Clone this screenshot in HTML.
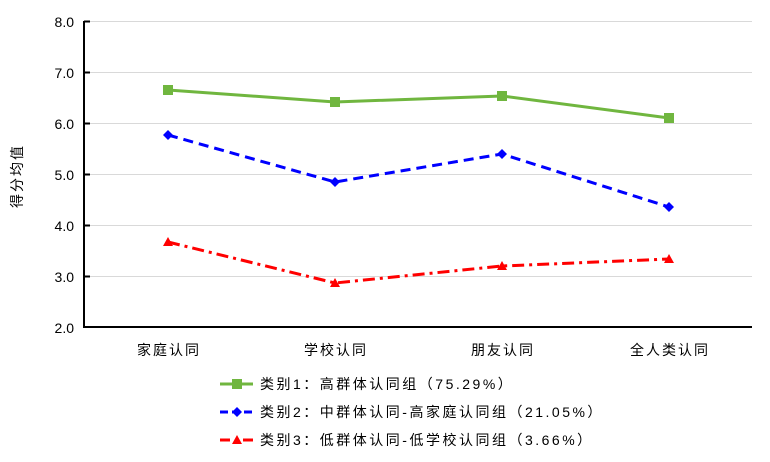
<!DOCTYPE html>
<html><head><meta charset="utf-8"><style>
html,body{margin:0;padding:0;background:#fff;}
svg{display:block;font-family:"Liberation Sans","Noto Sans CJK SC",sans-serif;}
</style></head><body>
<svg width="770" height="462" viewBox="0 0 770 462" xmlns="http://www.w3.org/2000/svg">
<rect width="770" height="462" fill="#fff"/>
<g stroke="#d9d9d9" stroke-width="1">
<line x1="85" y1="21.5" x2="752" y2="21.5"/>
<line x1="85" y1="72.5" x2="752" y2="72.5"/>
<line x1="85" y1="123.5" x2="752" y2="123.5"/>
<line x1="85" y1="174.5" x2="752" y2="174.5"/>
<line x1="85" y1="225.5" x2="752" y2="225.5"/>
<line x1="85" y1="276.5" x2="752" y2="276.5"/>
</g>
<g stroke="#000" stroke-width="2">
<line x1="84" y1="21" x2="84" y2="327"/>
<line x1="83" y1="327" x2="752" y2="327"/>
<line x1="84" y1="21.5" x2="90" y2="21.5"/>
<line x1="84" y1="72.5" x2="90" y2="72.5"/>
<line x1="84" y1="123.5" x2="90" y2="123.5"/>
<line x1="84" y1="174.5" x2="90" y2="174.5"/>
<line x1="84" y1="225.5" x2="90" y2="225.5"/>
<line x1="84" y1="276.5" x2="90" y2="276.5"/>
</g>
<g font-size="14" fill="#000" text-anchor="end">
<text x="74" y="27">8.0</text>
<text x="74" y="78">7.0</text>
<text x="74" y="129">6.0</text>
<text x="74" y="180">5.0</text>
<text x="74" y="231">4.0</text>
<text x="74" y="282">3.0</text>
<text x="74" y="333">2.0</text>
</g>
<text transform="translate(22,176) rotate(-90)" font-size="14" text-anchor="middle" letter-spacing="2">得分均值</text>
<g font-size="14" text-anchor="middle" letter-spacing="2">
<text x="169" y="355">家庭认同</text>
<text x="336" y="355">学校认同</text>
<text x="503" y="355">朋友认同</text>
<text x="670" y="355">全人类认同</text>
</g>
<polyline points="168,90 335,102 502,96 669,118" fill="none" stroke="#70b63f" stroke-width="3"/>
<g fill="#70b63f">
<rect x="163" y="85" width="10" height="10"/><rect x="330" y="97" width="10" height="10"/>
<rect x="497" y="91" width="10" height="10"/><rect x="664" y="113" width="10" height="10"/>
</g>
<polyline points="168,135 335,182 502,154 669,207" fill="none" stroke="#0000ff" stroke-width="3" stroke-dasharray="10,6"/>
<g fill="#0000ff">
<path d="M168,130 l5,5 l-5,5 l-5,-5z"/><path d="M335,177 l5,5 l-5,5 l-5,-5z"/>
<path d="M502,149 l5,5 l-5,5 l-5,-5z"/><path d="M669,202 l5,5 l-5,5 l-5,-5z"/>
</g>
<polyline points="168,242 335,283 502,266 669,259" fill="none" stroke="#ff0000" stroke-width="3" stroke-dasharray="12,5,3,5"/>
<g fill="#ff0000">
<path d="M168,237 l5,9 l-10,0z"/><path d="M335,278 l5,9 l-10,0z"/>
<path d="M502,261 l5,9 l-10,0z"/><path d="M669,254 l5,9 l-10,0z"/>
</g>
<g font-size="14" letter-spacing="2.5">
<line x1="220" y1="384" x2="253" y2="384" stroke="#70b63f" stroke-width="3"/>
<rect x="232" y="379" width="10" height="10" fill="#70b63f"/>
<text x="260" y="389">类别1：高群体认同组（75.29%）</text>
<line x1="220" y1="412" x2="253" y2="412" stroke="#0000ff" stroke-width="3" stroke-dasharray="8,4"/>
<path d="M237,407 l5,5 l-5,5 l-5,-5z" fill="#0000ff"/>
<text x="260" y="417">类别2：中群体认同-高家庭认同组（21.05%）</text>
<line x1="220" y1="440" x2="253" y2="440" stroke="#ff0000" stroke-width="3" stroke-dasharray="10,5,3,5"/>
<path d="M237,435 l5,9 l-10,0z" fill="#ff0000"/>
<text x="260" y="445">类别3：低群体认同-低学校认同组（3.66%）</text>
</g>
</svg>
</body></html>
